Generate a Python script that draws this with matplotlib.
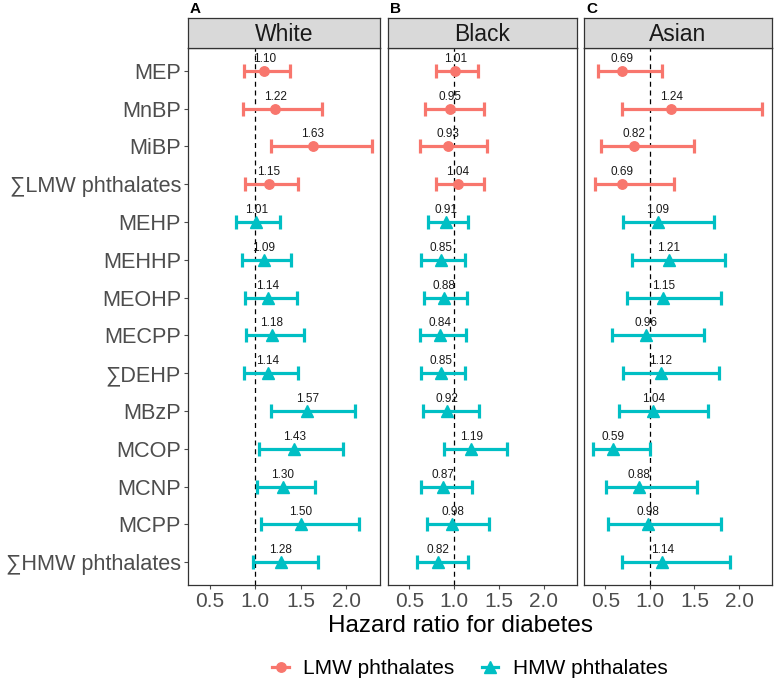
import matplotlib
matplotlib.use('Agg')
import matplotlib.pyplot as plt
from matplotlib.lines import Line2D
import numpy as np

plt.rcParams['font.family'] = ['Liberation Sans', 'DejaVu Sans']

metabolites = ["MEP", "MnBP", "MiBP", "\u2211LMW phthalates", "MEHP", "MEHHP", "MEOHP",
               "MECPP", "\u2211DEHP", "MBzP", "MCOP", "MCNP", "MCPP", "\u2211HMW phthalates"]
groups = ["LMW phthalates"] * 4 + ["HMW phthalates"] * 10

white_hr = [1.10, 1.22, 1.63, 1.15, 1.01, 1.09, 1.14, 1.18, 1.14, 1.57, 1.43, 1.30, 1.50, 1.28]
white_lo = [0.88, 0.86, 1.17, 0.89, 0.79, 0.85, 0.89, 0.90, 0.88, 1.17, 1.04, 1.02, 1.06, 0.97]
white_hi = [1.38, 1.73, 2.28, 1.47, 1.27, 1.39, 1.46, 1.53, 1.47, 2.10, 1.96, 1.66, 2.14, 1.69]

black_hr = [1.01, 0.95, 0.93, 1.04, 0.91, 0.85, 0.88, 0.84, 0.85, 0.92, 1.19, 0.87, 0.98, 0.82]
black_lo = [0.80, 0.67, 0.62, 0.80, 0.71, 0.63, 0.66, 0.62, 0.63, 0.65, 0.89, 0.63, 0.69, 0.58]
black_hi = [1.26, 1.33, 1.37, 1.33, 1.15, 1.12, 1.14, 1.13, 1.12, 1.28, 1.59, 1.20, 1.39, 1.15]

asian_hr = [0.69, 1.24, 0.82, 0.69, 1.09, 1.21, 1.15, 0.96, 1.12, 1.04, 0.59, 0.88, 0.98, 1.14]
asian_lo = [0.42, 0.69, 0.45, 0.38, 0.70, 0.80, 0.74, 0.57, 0.70, 0.65, 0.36, 0.51, 0.53, 0.69]
asian_hi = [1.13, 2.26, 1.50, 1.27, 1.72, 1.84, 1.80, 1.61, 1.78, 1.65, 1.00, 1.53, 1.80, 1.90]

panels = [("A", "White", white_hr, white_lo, white_hi),
          ("B", "Black", black_hr, black_lo, black_hi),
          ("C", "Asian", asian_hr, asian_lo, asian_hi)]

xticks = [0.5, 1.0, 1.5, 2.0]
xtick_labels = ["0.5", "1.0", "1.5", "2.0"]

colors = {"LMW phthalates": "#F8766D", "HMW phthalates": "#00BFC4"}
markers = {"LMW phthalates": "o", "HMW phthalates": "^"}
msizes = {"LMW phthalates": 6.8, "HMW phthalates": 8.5}

W, H = 776, 683
fig = plt.figure(figsize=(W / 100, H / 100), dpi=100)

panel_x = [(188, 380), (388, 577), (584, 772)]
top_px, bot_px = 48, 585
strip_top = 18
gray = "#4D4D4D"
border = "#333333"

for i, (letter, title, hr, lo, hi) in enumerate(panels):
    x0, x1 = panel_x[i]
    ax = fig.add_axes([x0 / W, 1 - bot_px / H, (x1 - x0) / W, (bot_px - top_px) / H])
    hr = np.array(hr); lo = np.array(lo); hi = np.array(hi)
    y = np.arange(len(metabolites))
    ax.axvline(1.0, color="black", linestyle=(0, (4, 3)), linewidth=0.9, zorder=1)
    for g in ["LMW phthalates", "HMW phthalates"]:
        m = np.array([gg == g for gg in groups])
        ax.errorbar(hr[m], y[m], xerr=[hr[m] - lo[m], hi[m] - hr[m]], fmt=markers[g],
                    color=colors[g], ecolor=colors[g], elinewidth=2.3, capsize=4.8,
                    capthick=2.3, markersize=msizes[g], zorder=3)
    for xi, yi in zip(hr, y):
        ax.annotate(f"{xi:.2f}", (xi, yi), xytext=(0, 12), textcoords="offset pixels",
                    ha="center", va="center", fontsize=8.5, color="#1a1a1a", zorder=4)
    ax.set_xlim(0.26, 2.37)
    ax.set_ylim(len(metabolites) - 0.4, -0.6)
    ax.set_xticks(xticks)
    ax.set_xticklabels(xtick_labels, fontsize=15, color=gray)
    ax.set_yticks(y)
    if i == 0:
        ax.set_yticklabels(metabolites, fontsize=15.6, color=gray)
        ax.tick_params(axis="y", length=3, color=gray, width=0.8, pad=2)
    else:
        ax.set_yticklabels([])
        ax.tick_params(axis="y", length=0)
    ax.tick_params(axis="x", length=3, color=gray, width=0.8, pad=2)
    for s in ax.spines.values():
        s.set_color(border)
        s.set_linewidth(0.9)
    # strip
    sax = fig.add_axes([x0 / W, 1 - top_px / H, (x1 - x0) / W, (top_px - strip_top) / H])
    sax.set_facecolor("#D9D9D9")
    sax.set_xticks([]); sax.set_yticks([])
    for s in sax.spines.values():
        s.set_color(border)
        s.set_linewidth(0.9)
    sax.text(0.5, 0.45, title, ha="center", va="center", fontsize=16.5, color="#1a1a1a",
             transform=sax.transAxes)
    fig.text((x0 + 2) / W, 1 - 9 / H, letter, ha="left", va="center", fontsize=11,
             fontweight="bold")

fig.text(460 / W, 1 - 626 / H, "Hazard ratio for diabetes", ha="center", va="center",
         fontsize=17.5)

handles = [Line2D([0], [0], color=colors[g], marker=markers[g], markersize=msizes[g],
                  linewidth=2.3) for g in ["LMW phthalates", "HMW phthalates"]]
fig.legend(handles, ["LMW phthalates", "HMW phthalates"], loc="center",
           bbox_to_anchor=(470 / W, 1 - 669 / H), ncol=2, frameon=False, fontsize=15,
           handlelength=0.8, handletextpad=0.7, columnspacing=1.3)

fig.savefig("out.png", dpi=100)
